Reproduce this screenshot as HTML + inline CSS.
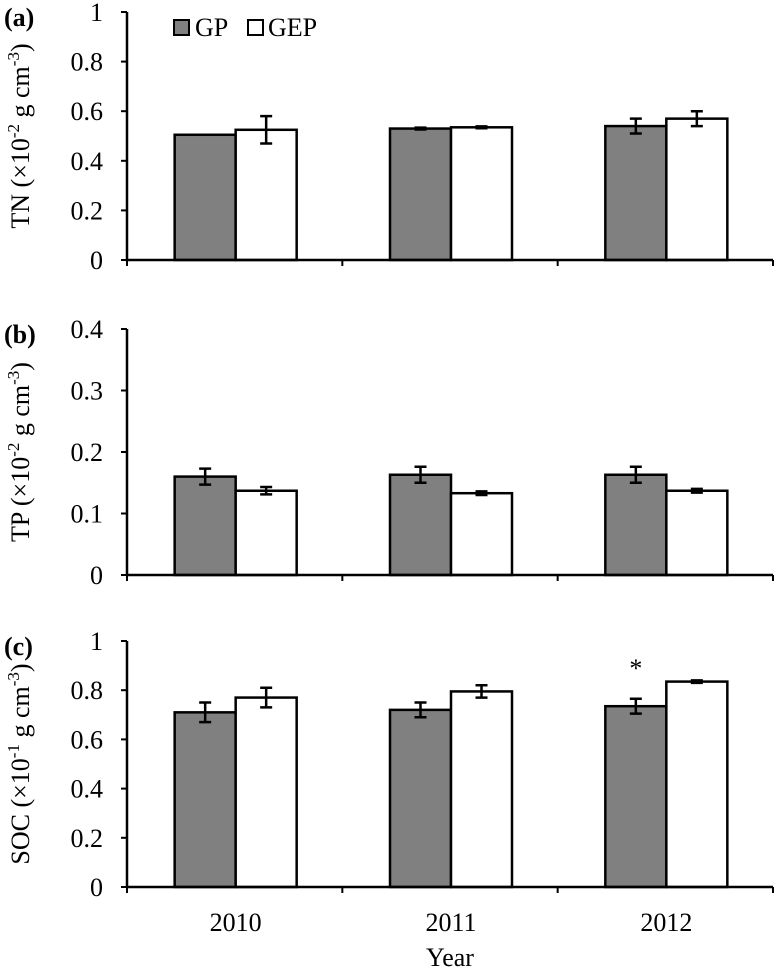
<!DOCTYPE html>
<html><head><meta charset="utf-8"><style>
body{margin:0;background:#fff}
svg{display:block;font-family:"Liberation Serif",serif}
</style></head><body>
<svg id="c" width="776" height="971" viewBox="0 0 776 971"></svg>
<script>
const categories=["2010","2011","2012"];
const tnGP=[0.505,0.53,0.54], tnGPerr=[0,0.004,0.03];
const tnGEP=[0.525,0.535,0.57], tnGEPerr=[0.055,0.004,0.03];
const tpGP=[0.16,0.163,0.163], tpGPerr=[0.013,0.013,0.013];
const tpGEP=[0.137,0.133,0.137], tpGEPerr=[0.006,0.003,0.003];
const socGP=[0.71,0.72,0.735], socGPerr=[0.04,0.03,0.03];
const socGEP=[0.77,0.795,0.835], socGEPerr=[0.04,0.025,0.005];
const tnTicks=["0","0.2","0.4","0.6","0.8","1"];
const tpTicks=["0","0.1","0.2","0.3","0.4"];
const socTicks=["0","0.2","0.4","0.6","0.8","1"];

const svg=document.getElementById('c');
const NS="http://www.w3.org/2000/svg";
function mk(t,a,p){const e=document.createElementNS(NS,t);for(const k in a)e.setAttribute(k,a[k]);(p||svg).appendChild(e);return e;}
const X0=127,X1=773,cw=(X1-X0)/categories.length,bw=61,FS=26;
function panel(name,top,bot,max,ticks,gp,gpe,gep,gepe,label,title,exp,showX){
  const g=mk('g',{});
  
  
  const y=v=>bot-(v/max)*(bot-top);
  ticks.forEach(t=>{const v=parseFloat(t);
    const l=mk('line',{x1:X0-6,x2:X0,y1:y(v),y2:y(v),stroke:'#000','stroke-width':2},g);
    
    const tx=mk('text',{x:X0-24,y:y(v)+9,'text-anchor':'end','font-size':FS},g);
    tx.textContent=t;
  });
  categories.forEach((c,i)=>{
    const cx=X0+cw*(i+0.5)+1;
    [[gp,gpe,'#808080','gp'],[gep,gepe,'#fff','gep']].forEach(([vals,errs,fill,s],j)=>{
      const x=j==0?cx-bw:cx;
      const r=mk('rect',{x:x,y:y(vals[i]),width:bw,height:bot-y(vals[i]),fill:fill,stroke:'#000','stroke-width':2.5},g);
      
      if(errs[i]>0){const ex=x+bw/2,a=y(vals[i]+errs[i]),b=y(vals[i]-errs[i]);
        const p=mk('path',{d:`M${ex},${a}V${b}M${ex-6},${a}H${ex+6}M${ex-6},${b}H${ex+6}`,stroke:'#000','stroke-width':2.5,fill:'none'},g);
        }
    });
    if(showX){const t=mk('text',{x:cx,y:bot+44,'text-anchor':'middle','font-size':FS},g);
      t.textContent=c;}
  });
  for(let i=0;i<=categories.length;i++){const tx=X0+cw*i;
    const l=mk('line',{x1:tx,x2:tx,y1:bot,y2:bot+6,stroke:'#000','stroke-width':2},g);
    }
  const ax=mk('path',{d:`M${X0},${top}V${bot}H${X1}`,stroke:'#000','stroke-width':2.5,fill:'none'},g);
  
  const lb=mk('text',{x:4,y:top+14,'font-size':FS,'font-weight':'bold'},g);
  lb.textContent=label;
  const yt=mk('text',{transform:`translate(29,${(top+bot)/2}) rotate(-90)`,'text-anchor':'middle','font-size':FS},g);
  
  yt.innerHTML=`${title} (×10<tspan dy="-10" font-size="17">${exp}</tspan><tspan dy="10"> g cm</tspan><tspan dy="-10" font-size="17">-3</tspan><tspan dy="10">)</tspan>`;
  return y;
}
panel('tn',12,260,1,tnTicks,tnGP,tnGPerr,tnGEP,tnGEPerr,'(a)','TN','-2',false);
panel('tp',329,575,0.4,tpTicks,tpGP,tpGPerr,tpGEP,tpGEPerr,'(b)','TP','-2',false);
const yc=panel('soc',641,887,1,socTicks,socGP,socGPerr,socGEP,socGEPerr,'(c)','SOC','-1',true);
const st=mk('text',{x:X0+cw*2.5+1-bw/2,y:yc(socGP[2]+socGPerr[2])-22,'text-anchor':'middle','font-size':FS});
st.textContent='*';
const xt=mk('text',{x:450,y:966,'text-anchor':'middle','font-size':FS});
xt.textContent='Year';
const lg=mk('g',{});
const l1=mk('rect',{x:174,y:20,width:15,height:15,fill:'#808080',stroke:'#000','stroke-width':2},lg);

const t1=mk('text',{x:195,y:36,'font-size':FS},lg);t1.textContent='GP';

const l2=mk('rect',{x:248,y:20,width:15,height:15,fill:'#fff',stroke:'#000','stroke-width':2},lg);

const t2=mk('text',{x:268,y:36,'font-size':FS},lg);t2.textContent='GEP';

</script>
</body></html>
